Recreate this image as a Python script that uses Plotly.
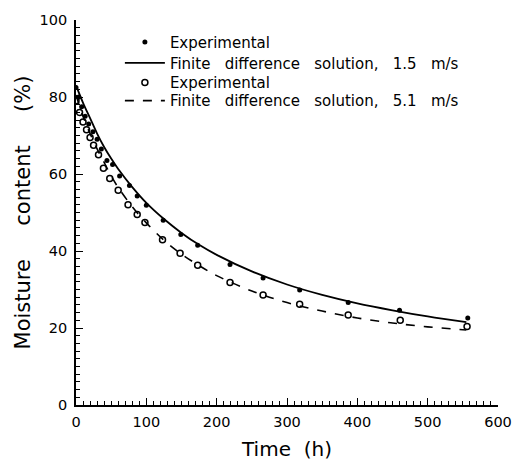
import plotly.graph_objects as go

# Experimental data, 1.5 m/s (filled dots)
t_exp1 = [0, 4, 8, 13, 18, 24, 30, 36, 44, 52, 62, 76, 87, 100, 124, 149, 173, 219, 266, 318, 387, 460, 557]
m_exp1 = [82.5, 80, 77.5, 75, 73, 71, 69, 66.5, 63.5, 62.5, 59.5, 57, 54.3, 51.9, 48, 44.3, 41.5, 36.5, 33, 29.9, 26.6, 24.6, 22.6]

# Experimental data, 5.1 m/s (open circles)
t_exp2 = [0, 5, 10, 15, 20, 25, 32, 39, 48, 60, 74, 87, 98, 123, 148, 173, 219, 266, 318, 387, 461, 556]
m_exp2 = [79, 76, 73.5, 71.5, 69.5, 67.5, 65, 61.5, 58.8, 55.8, 52, 49.5, 47.4, 42.9, 39.4, 36.3, 31.8, 28.6, 26.2, 23.4, 22, 20.4]

# Finite difference solutions
t_fd = [0, 10, 20, 30, 40, 50, 60, 80, 100, 125, 150, 175, 200, 250, 300, 350, 400, 450, 500, 555]
m_fd1 = [83, 78.5, 74.5, 70.5, 67, 64, 61.3, 56.6, 52.5, 48.3, 44.7, 41.6, 39, 34.7, 31.3, 28.6, 26.4, 24.6, 23, 21.5]
m_fd2 = [80.5, 75, 70.5, 66.5, 63, 59.5, 56.5, 51.5, 47.3, 42.8, 39.2, 36.2, 33.6, 29.6, 26.6, 24.4, 22.6, 21.3, 20.3, 19.5]

FONT = "DejaVu Sans"
S2 = "\u00a0\u00a0"
S3 = "\u00a0\u00a0\u00a0"
S5 = "\u00a0" * 5

fig = go.Figure()
fig.add_trace(go.Scatter(x=t_exp1, y=m_exp1, mode="markers", name="Experimental", legend="legend",
                         marker=dict(symbol="circle", size=5, color="black")))
fig.add_trace(go.Scatter(x=t_fd, y=m_fd1, mode="lines", legend="legend2",
                         name=f"Finite{S3}difference{S3}solution,{S3}1.5{S3}m/s",
                         line=dict(color="black", width=1.8, shape="spline")))
fig.add_trace(go.Scatter(x=t_exp2, y=m_exp2, mode="markers", name="Experimental", legend="legend3",
                         marker=dict(symbol="circle-open", size=6, color="black", line=dict(width=1.5))))
fig.add_trace(go.Scatter(x=t_fd, y=m_fd2, mode="lines", legend="legend4",
                         name=f"Finite{S3}difference{S3}solution,{S3}5.1{S3}m/s",
                         line=dict(color="black", width=1.6, dash="dash", shape="spline")))

def leg(yv):
    return dict(x=0.104, y=yv, xanchor="left", yanchor="middle",
                bgcolor="rgba(0,0,0,0)", font=dict(size=15, family=FONT),
                itemwidth=40)

fig.update_layout(
    width=513, height=462,
    margin=dict(l=76, r=15, t=20, b=57),
    paper_bgcolor="white", plot_bgcolor="white",
    font=dict(family=FONT, color="black", size=14),
    legend=leg(0.942), legend2=leg(0.888), legend3=leg(0.837), legend4=leg(0.790),
    showlegend=True,
)
fig.update_xaxes(
    range=[0, 600], tick0=0, dtick=100, showgrid=False, zeroline=False, automargin=False,
    showline=True, linecolor="black", linewidth=1.6,
    ticks="inside", ticklen=7, tickwidth=1.2, tickcolor="black",
    minor=dict(dtick=10, ticks="inside", ticklen=4, tickwidth=1, tickcolor="black"),
    title=dict(text=f"Time{S2}(h)", font=dict(size=20, family=FONT), standoff=13),
    tickfont=dict(size=14.5, family=FONT),
    ticklabelstandoff=3,
)
fig.update_yaxes(
    range=[0, 100], tick0=0, dtick=20, showgrid=False, zeroline=False, automargin=False,
    showline=True, linecolor="black", linewidth=1.6,
    ticks="inside", ticklen=7, tickwidth=1.2, tickcolor="black",
    minor=dict(dtick=2, ticks="inside", ticklen=4, tickwidth=1, tickcolor="black"),
    title=dict(text=f"Moisture{S5}content{S5}(%)", font=dict(size=21, family=FONT), standoff=3),
    tickfont=dict(size=14.5, family=FONT),
    ticklabelstandoff=4,
)

fig.write_html(
    "out.html",
    config={"displayModeBar": False},
    post_script="document.body.style.margin='0';document.body.style.overflow='hidden';",
)
